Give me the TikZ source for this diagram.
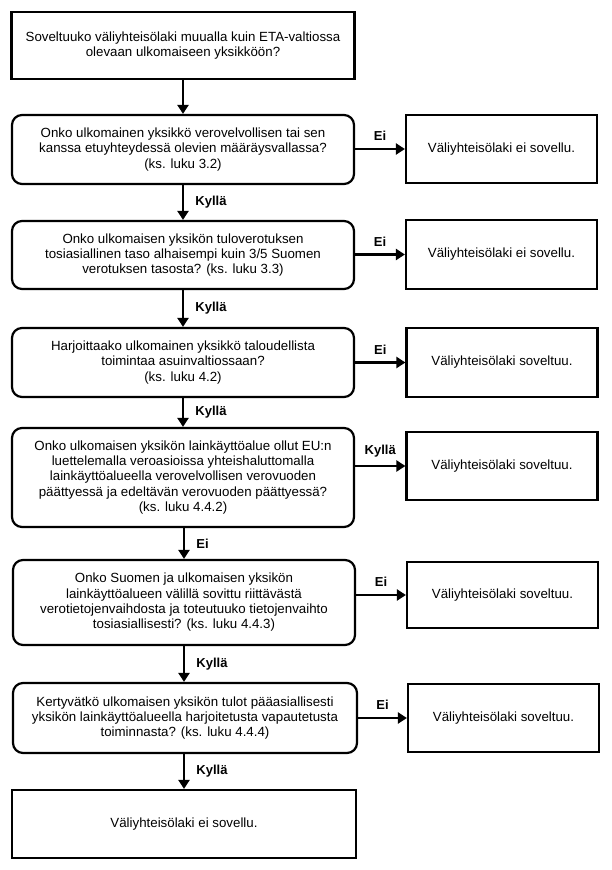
\documentclass[tikz,border=0pt]{standalone}
\usepackage{fontspec}
\setmainfont{Liberation Sans}
\usetikzlibrary{arrows.meta}
\begin{document}
\begin{tikzpicture}[x=1pt, y=-1pt,
		question/.style={draw=black, line width=2.2pt, rounded corners=10pt, align=center, inner sep=0pt, minimum width=342pt, font=\fontsize{13.3}{15.3}\selectfont},
		answer/.style={draw=black, line width=2.2pt, align=center, inner sep=0pt, minimum width=191pt, minimum height=68pt, font=\fontsize{13.3}{15.3}\selectfont},
		flow/.style={line width=2.2pt, -{Triangle[width=11pt,length=9pt]}},
		choice/.style={font=\fontsize{13}{15}\selectfont\bfseries}]
			\useasboundingbox (0,0) rectangle (611,870);
			\node[answer, minimum width=343pt, minimum height=67pt] (start) at (183,45.5) {Soveltuuko väliyhteisölaki muualla kuin ETA-valtiossa\\olevaan ulkomaiseen yksikköön?};
			
			\node[question, minimum height=69pt] (q1) at (183,149.5) {Onko ulkomainen yksikkö verovelvollisen tai sen\\kanssa etuyhteydessä olevien määräysvallassa?\\(ks. luku 3.2)};
			\node[answer] (r1) at (501.5,149) {Väliyhteisölaki ei sovellu.};
			
			\node[question, minimum height=68pt] (q2) at (183,255) {Onko ulkomaisen yksikön tuloverotuksen\\tosiasiallinen taso alhaisempi kuin 3/5 Suomen\\verotuksen tasosta? (ks. luku 3.3)};
			\node[answer, minimum height=69pt] (r2) at (501.5,254.5) {Väliyhteisölaki ei sovellu.};
			
			\node[question, minimum height=69pt] (q3) at (183,362.5) {Harjoittaako ulkomainen yksikkö taloudellista\\toimintaa asuinvaltiossaan?\\(ks. luku 4.2)};
			\node[answer, minimum height=69pt] (r3) at (502,362.5) {Väliyhteisölaki soveltuu.};
			
			\node[question, minimum height=99pt] (q4) at (183,477.5) {Onko ulkomaisen yksikön lainkäyttöalue ollut EU:n\\luettelemalla veroasioissa yhteishaluttomalla\\lainkäyttöalueella verovelvollisen verovuoden\\päättyessä ja edeltävän verovuoden päättyessä?\\(ks. luku 4.4.2)};
			\node[answer] (r4) at (502,466) {Väliyhteisölaki soveltuu.};
			
			\node[question, minimum height=85pt] (q5) at (184,602.5) {Onko Suomen ja ulkomaisen yksikön\\lainkäyttöalueen välillä sovittu riittävästä\\verotietojenvaihdosta ja toteutuuko tietojenvaihto\\tosiasiallisesti? (ks. luku 4.4.3)};
			\node[answer, minimum height=66pt] (r5) at (502.5,595) {Väliyhteisölaki soveltuu.};
			
			\node[question, minimum width=344pt, minimum height=70pt] (q6) at (185,718) {Kertyvätkö ulkomaisen yksikön tulot pääasiallisesti\\yksikön lainkäyttöalueella harjoitetusta vapautetusta\\toiminnasta? (ks. luku 4.4.4)};
			\node[answer] (r6) at (503.5,718) {Väliyhteisölaki soveltuu.};
			
			\node[answer, minimum width=344pt] (stop) at (184,824) {Väliyhteisölaki ei sovellu.};
			
			\draw[flow] (start) -- (q1);
			\draw[flow] (q1) -- node[choice, right=8pt] {Kyllä} (q2);
			\draw[flow] (q2) -- node[choice, right=8pt] {Kyllä} (q3);
			\draw[flow] (q3) -- node[choice, right=8pt] {Kyllä} (q4);
			\draw[flow] (q4.south -| q5.north) -- node[choice, right=8pt] {Ei} (q5.north);
			\draw[flow] (q5.south) -- node[choice, right=8pt] {Kyllä} (q5.south |- q6.north);
			\draw[flow] (q6.south -| stop.north) -- node[choice, right=8pt] {Kyllä} (stop.north);
			
			\draw[flow] (q1.east |- r1.west) -- node[choice, above=4pt] {Ei} (r1.west);
			\draw[flow] (q2.east |- r2.west) -- node[choice, above=4pt] {Ei} (r2.west);
			\draw[flow] (q3.east |- r3.west) -- node[choice, above=4pt] {Ei} (r3.west);
			\draw[flow] (q4.east |- r4.west) -- node[choice, above=4pt] {Kyllä} (r4.west);
			\draw[flow] (q5.east |- r5.west) -- node[choice, above=4pt] {Ei} (r5.west);
			\draw[flow] (q6.east |- r6.west) -- node[choice, above=4pt] {Ei} (r6.west);
		\end{tikzpicture}
\end{document}
